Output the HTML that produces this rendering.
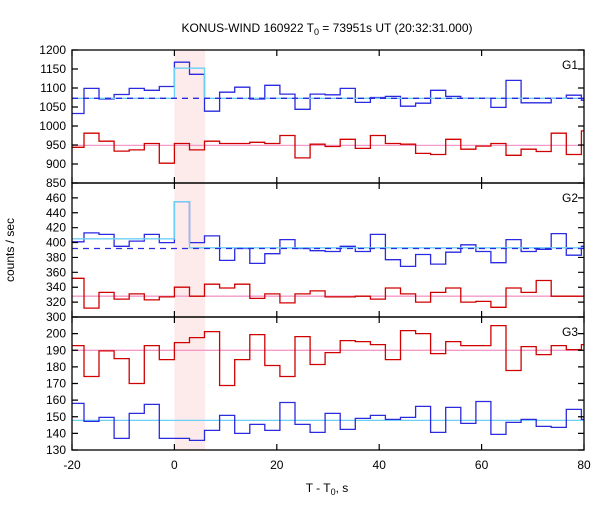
<!DOCTYPE html>
<html><head><meta charset="utf-8"><style>
body{margin:0;background:#fff;font-family:"Liberation Sans",sans-serif}
svg text{font-family:"Liberation Sans",sans-serif;font-size:12px;fill:#000}
</style></head><body>
<svg id="chart" width="600" height="500" xmlns="http://www.w3.org/2000/svg">
<text x="327" y="32" text-anchor="middle">KONUS-WIND 160922 T<tspan font-size="9" dy="3">0</tspan><tspan dy="-3"> = 73951s UT (20:32:31.000)</tspan></text>
<text transform="translate(14,250) rotate(-90)" text-anchor="middle">counts / sec</text>
<text x="327" y="492" text-anchor="middle">T - T<tspan font-size="9" dy="3">0</tspan><tspan dy="-3">, s</tspan></text>
<g id="plot"></g>
</svg>
<script>
const binWidth = 2.944;
const firstBin = -7;
const xTicks = [-20, 0, 20, 40, 60, 80];
const g1Ticks = [850, 900, 950, 1000, 1050, 1100, 1150, 1200];
const g2Ticks = [300, 320, 340, 360, 380, 400, 420, 440, 460];
const g3Ticks = [130, 140, 150, 160, 170, 180, 190, 200];
const g1Blue = [1033,1099,1071,1083,1099,1094,1104,1168,1136,1039,1089,1102,1071,1107,1084,1044,1084,1082,1099,1062,1075,1078,1052,1060,1094,1078,1073,1073,1049,1120,1061,1061,1073,1081,1068];
const g1Red = [944,981,960,934,937,954,902,954,937,960,954,954,957,954,975,916,952,946,965,941,975,954,952,928,925,965,939,947,954,923,939,933,981,925,987];
const g2Blue = [401,413,411,395,402,411,400,455,400,409,376,392,372,385,404,392,389,388,395,388,411,377,368,384,371,387,397,388,373,404,388,391,412,383,395];
const g2Red = [352,312,333,324,331,323,327,340,328,344,339,344,325,331,319,331,335,327,327,328,324,339,331,320,333,339,320,321,313,339,333,349,328,328,328];
const g3Red = [192.8,174.2,189.6,185,170,192.8,184.4,194.6,197.6,201.2,168.8,184.4,199.4,180.8,174.2,198.2,181.4,188.6,195.8,195.2,193.4,184.4,201.8,200,188,195.2,192.8,192.8,204.8,177.8,192.2,187.4,192.8,190.4,193.4];
const g3Blue = [158,147.2,149.6,137,152,157.4,137,137,135.8,141.8,150.8,140,145.4,141.8,158.6,145.4,140.6,152,142.4,149,150.8,148.4,149.6,156.2,140.6,155.6,146,159.2,139.4,146.6,148.4,144.2,143.6,154.4,148.4];
const g1Bg = 949, g1Bg2 = 1073, g1Peak = 1152;
const g2Bg = 328, g2Pre = 405, g2Peak = 455, g2Post = 393, g2Dash = 392;
const g3BgRed = 190, g3BgBlue = 147.8;
const shadeStart = 0, shadeEnd = 6;

const NS = "http://www.w3.org/2000/svg";
const plot = document.getElementById('plot');
const X0 = 72, X1 = 584, T0 = -20, T1 = 80;
const xs = t => X0 + (t - T0) * (X1 - X0) / (T1 - T0);
const panels = [
  {name:'g1', y0:50, y1:183, min:850, max:1200, ticks:g1Ticks},
  {name:'g2', y0:183, y1:317, min:300, max:480, ticks:g2Ticks},
  {name:'g3', y0:317, y1:450, min:130, max:210, ticks:g3Ticks}
];
const ys = (p, v) => p.y1 - (v - p.min) * (p.y1 - p.y0) / (p.max - p.min);
function mk(tag, attrs){const e=document.createElementNS(NS,tag);for(const k in attrs)e.setAttribute(k,attrs[k]);plot.appendChild(e);return e;}

const shade = mk('rect',{x:xs(shadeStart),y:50,width:xs(shadeEnd)-xs(shadeStart),height:400,fill:'#fdeaea'});



function stepPath(p, vals){
  let d='';
  vals.forEach((v,i)=>{
    const k=firstBin+i;
    const a=Math.max(T0,k*binWidth), b=Math.min(T1,(k+1)*binWidth);
    const y=ys(p,v).toFixed(1);
    d += (i===0?`M${xs(a).toFixed(1)},${y}`:`V${y}`) + `H${xs(b).toFixed(1)}`;
  });
  return d;
}
function segPath(p, segs){
  let d='';
  segs.forEach((s,i)=>{const y=ys(p,s[2]).toFixed(1);d+=(i===0?`M${xs(s[0]).toFixed(1)},${y}`:`V${y}`)+`H${xs(s[1]).toFixed(1)}`;});
  return d;
}
function line(p, d, color, name, dash){
  const e=mk('path',{d:d,fill:'none',stroke:color,'stroke-width':1.3});
  if(dash)e.setAttribute('stroke-dasharray',dash);
  
  
  return e;
}
const pinkC='#f49ac8', cyanC='#6ccff6', redC='#d00000', blueC='#2a2ae0';
// G1
line(panels[0], segPath(panels[0],[[T0,T1,g1Bg]]), pinkC, 'g1-red-background');
line(panels[0], stepPath(panels[0],g1Red), redC, 'g1-red-series');
line(panels[0], stepPath(panels[0],g1Blue), blueC, 'g1-blue-series');
line(panels[0], segPath(panels[0],[[T0,0,g1Bg2],[0,2*binWidth,g1Peak],[2*binWidth,T1,g1Bg2]]), cyanC, 'g1-cyan-fit');
line(panels[0], segPath(panels[0],[[T0,T1,g1Bg2]]), blueC, 'g1-blue-dashed-background','6,5');
// G2
line(panels[1], segPath(panels[1],[[T0,T1,g2Bg]]), pinkC, 'g2-red-background');
line(panels[1], stepPath(panels[1],g2Red), redC, 'g2-red-series');
line(panels[1], stepPath(panels[1],g2Blue), blueC, 'g2-blue-series');
line(panels[1], segPath(panels[1],[[T0,0,g2Pre],[0,binWidth,g2Peak],[binWidth,T1,g2Post]]), cyanC, 'g2-cyan-fit');
line(panels[1], segPath(panels[1],[[T0,T1,g2Dash]]), blueC, 'g2-blue-dashed-background','6,5');
// G3
line(panels[2], segPath(panels[2],[[T0,T1,g3BgRed]]), pinkC, 'g3-red-background');
line(panels[2], segPath(panels[2],[[T0,T1,g3BgBlue]]), cyanC, 'g3-blue-background');
line(panels[2], stepPath(panels[2],g3Red), redC, 'g3-red-series');
line(panels[2], stepPath(panels[2],g3Blue), blueC, 'g3-blue-series');

// frames, ticks, labels
panels.forEach((p,pi)=>{
  const r=mk('rect',{x:X0,y:p.y0,width:X1-X0,height:p.y1-p.y0,fill:'none',stroke:'#000','stroke-width':1.3});
  
  
  p.ticks.forEach(v=>{
    const y=ys(p,v);
    const t1=mk('path',{d:`M${X0},${y}h6M${X1},${y}h-6`,stroke:'#000','stroke-width':1.2});
    
    
    const lb=mk('text',{x:X0-6,y:y+4,'text-anchor':'end'});
    lb.textContent=v;
    
    
  });
  xTicks.forEach(t=>{
    const x=xs(t);
    const tk=mk('path',{d:`M${x},${p.y0}v6M${x},${p.y1}v-6`,stroke:'#000','stroke-width':1.2});
    
    
  });
  const gl=mk('text',{x:578,y:p.y0+19,'text-anchor':'end'});
  gl.textContent='G'+(pi+1);
  
  
});
xTicks.forEach(t=>{
  const lb=mk('text',{x:xs(t),y:469,'text-anchor':'middle'});
  lb.textContent=t;
  
  
});
</script>
</body></html>
